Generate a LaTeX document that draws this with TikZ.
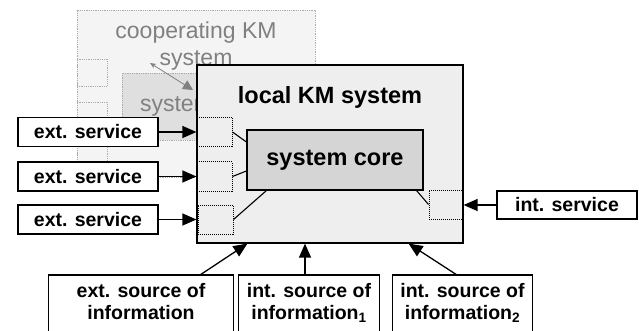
\documentclass[tikz,border=0pt]{standalone}
\usepackage{fontspec}
\setmainfont{Liberation Sans}
\usetikzlibrary{arrows.meta,positioning,calc}

\begin{document}
\begin{tikzpicture}[x=1pt, y=-1pt,
    box/.style={draw, line width=1.2pt, fill=white, inner sep=0pt, font=\fontsize{19.5}{22}\selectfont\bfseries},
    port/.style={draw, densely dotted, line width=1pt, minimum width=35pt, minimum height=29pt, inner sep=0pt},
    ghost/.style={draw=gray!65, densely dotted, line width=0.8pt, inner sep=0pt},
    link/.style={line width=1.1pt},
    feed/.style={line width=1.3pt, -{Triangle[length=14pt,width=12pt]}}
  ]

\clip (0,0) rectangle (639,331);
\fill[white] (0,0) rectangle (639,331);

% Cooperating KM system (background)
\node[ghost, fill=gray!9, minimum width=238pt, minimum height=167pt] (coop) at (196,93.5) {};
\node[text=gray, font=\fontsize{23}{27}\selectfont, align=center] (cooptitle) at (196,46) {cooperating KM\\system};
\node[ghost, minimum width=30pt, minimum height=27pt] (cp1) at (92,72.5) {};
\node[ghost, minimum width=30pt, minimum height=27pt] (cp2) at (92,115.5) {};
\node[ghost, minimum width=30pt, minimum height=27pt] (cp3) at (92,158.5) {};
\node[ghost, fill=gray!25, text=gray, font=\fontsize{23}{27}\selectfont, minimum width=160pt, minimum height=67pt] (coopcore) at (202,106.5) {system core};
\coordinate (coopend) at (150,63);
\coordinate (cooptip) at (193,90);
\draw[gray, line width=0.8pt, {Stealth[length=6pt,width=5pt]}-{Triangle[length=10pt,width=10pt]}] (coopend) -- (cooptip);

% Local KM system
\node[draw, line width=1.2pt, fill=gray!13, minimum width=266pt, minimum height=178pt] (local) at (330,154) {};
\node[font=\fontsize{23.5}{27}\selectfont\bfseries] (title) at (330,97) {local KM system};
\node[draw, line width=1.2pt, fill=gray!33, minimum width=176pt, minimum height=60pt, font=\fontsize{23.5}{27}\selectfont\bfseries] (core) at (335,160) {system core};

% Ports
\node[port] (p1) at (214.5,132) {};
\node[port] (p2) at (214.5,176.5) {};
\node[port] (p3) at (215.5,219.5) {};
\node[port, minimum width=34pt] (p4) at (446,204.5) {};
\draw[link] (p1.east) -- ([yshift=18pt]core.west);
\draw[link] (p2.east) -- ([yshift=-11pt]core.west);
\draw[link] (p3.east) -- ([xshift=20pt]core.south west);
\draw[link] (p4.west) -- ([xshift=-7pt]core.south east);

% Services
\node[box, minimum width=140pt, minimum height=29pt] (ext1) at (88,132) {ext. service};
\node[box, minimum width=140pt, minimum height=29pt] (ext2) at (88,176.5) {ext. service};
\node[box, minimum width=140pt, minimum height=29pt] (ext3) at (88,219.5) {ext. service};
\node[box, minimum width=140pt, minimum height=28pt] (intsrv) at (567,205) {int. service};
\draw[feed] (ext1.east) -- (ext1.east -| local.west);
\draw[feed] (ext2.east) -- (ext2.east -| local.west);
\draw[feed] (ext3.east) -- (ext3.east -| local.west);
\draw[feed] (intsrv.west) -- (intsrv.west -| local.east);

% Sources of information
\node[align=center, anchor=north, inner xsep=0pt, inner ysep=8pt, minimum width=184pt, font=\fontsize{19.5}{22}\selectfont\bfseries] (src1) at (141,275) {ext. source of\\information};
\node[align=center, anchor=north, inner xsep=0pt, inner ysep=8pt, minimum width=140pt, font=\fontsize{19.5}{22}\selectfont\bfseries] (src2) at (309,275) {int. source of\\information\textsubscript{1}};
\node[align=center, anchor=north, inner xsep=0pt, inner ysep=8pt, minimum width=139pt, font=\fontsize{19.5}{22}\selectfont\bfseries] (src3) at (462.5,275) {int. source of\\information\textsubscript{2}};
\draw[line width=1.2pt] (src1.north west) rectangle ([yshift=-80pt]src1.north east);
\draw[line width=1.2pt] (src2.north west) rectangle ([yshift=-80pt]src2.north east);
\draw[line width=1.2pt] (src3.north west) rectangle ([yshift=-80pt]src3.north east);
\draw[feed] ([xshift=59pt]src1.north) -- ([xshift=51pt]local.south west);
\draw[feed] ([xshift=-4pt]src2.north) -- ([xshift=-4pt]src2.north |- local.south);
\draw[feed] ([xshift=-5.5pt]src3.north) -- ([xshift=-55pt]local.south east);

\end{tikzpicture}
\end{document}
